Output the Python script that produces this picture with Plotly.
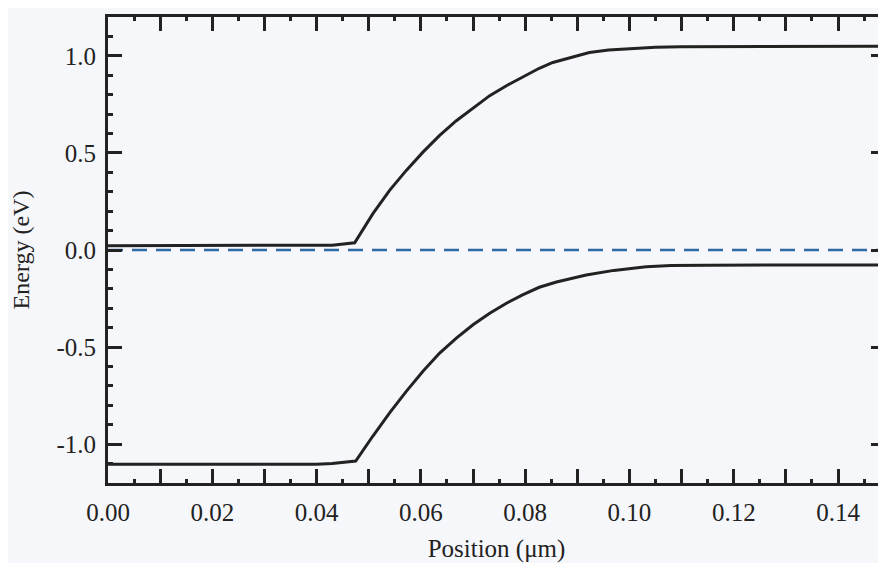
import plotly.graph_objects as go

# Data
cb_x = [0.000, 0.010, 0.020, 0.030, 0.040, 0.0430, 0.0473, 0.0508, 0.0540, 0.0572, 0.0604,
        0.0636, 0.0668, 0.0700, 0.0732, 0.0764, 0.0795, 0.0827, 0.0853, 0.0890, 0.0923,
        0.0960, 0.1006, 0.1050, 0.1100, 0.1200, 0.1300, 0.1490]
cb_y = [0.022, 0.022, 0.022, 0.022, 0.023, 0.025, 0.037, 0.187, 0.307, 0.410, 0.504,
        0.590, 0.666, 0.731, 0.795, 0.846, 0.892, 0.936, 0.966, 0.995, 1.017,
        1.030, 1.039, 1.044, 1.047, 1.048, 1.049, 1.049]

vb_x = [0.000, 0.010, 0.020, 0.030, 0.040, 0.0430, 0.0475, 0.0508, 0.0540, 0.0572, 0.0604,
        0.0636, 0.0668, 0.0700, 0.0732, 0.0764, 0.0795, 0.0827, 0.0860, 0.0917, 0.0970,
        0.1032, 0.1080, 0.1150, 0.1300, 0.1490]
vb_y = [-1.104, -1.104, -1.104, -1.104, -1.103, -1.100, -1.087, -0.958, -0.839, -0.728, -0.625,
        -0.531, -0.454, -0.385, -0.326, -0.274, -0.231, -0.192, -0.165, -0.129, -0.105,
        -0.086, -0.080, -0.078, -0.077, -0.077]

ef_x = [0.000, 0.149]
ef_y = [0.0, 0.0]

x_tickvals = [0.00, 0.01, 0.02, 0.03, 0.04, 0.05, 0.06, 0.07, 0.08, 0.09, 0.10, 0.11, 0.12, 0.13, 0.14]
x_ticktext = ["0.00", "", "0.02", "", "0.04", "", "0.06", "", "0.08", "", "0.10", "", "0.12", "", "0.14"]
y_tickvals = [-1.0, -0.5, 0.0, 0.5, 1.0]
y_ticktext = ["-1.0", "-0.5", "0.0", "0.5", "1.0"]

INK = "#222222"
BG = "#f6f7fb"
FONT = "Liberation Serif, Times New Roman, serif"

fig = go.Figure()
fig.add_trace(go.Scatter(x=cb_x, y=cb_y, mode="lines", line=dict(color=INK, width=3),
                         showlegend=False))
fig.add_trace(go.Scatter(x=vb_x, y=vb_y, mode="lines", line=dict(color=INK, width=3),
                         showlegend=False))
fig.add_trace(go.Scatter(x=ef_x, y=ef_y, mode="lines", line=dict(color="#2f6aa3", width=2.5, dash="15px,9px"),
                         showlegend=False))

fig.update_layout(
    width=886, height=563,
    margin=dict(l=100, r=8, t=6, b=88),
    paper_bgcolor=BG, plot_bgcolor=BG,
    font=dict(family=FONT, color=INK, size=25),
)

fig.update_xaxes(
    range=[0, 0.149],
    showgrid=False, zeroline=False,
    showline=True, linecolor=INK, linewidth=3, mirror="ticks",
    ticks="inside", ticklen=14, tickwidth=2.5, tickcolor=INK,
    tickvals=x_tickvals, ticktext=x_ticktext,
    tickfont=dict(family=FONT, size=25, color=INK),
    ticklabelstandoff=5,
    minor=dict(dtick=0.005, tick0=0, ticks="inside", ticklen=4, tickwidth=2.5, tickcolor=INK, showgrid=False),
    title=dict(text="Position (μm)", font=dict(family=FONT, size=25, color=INK), standoff=15),
)

fig.update_yaxes(
    range=[-1.2, 1.2],
    showgrid=False, zeroline=False,
    showline=True, linecolor=INK, linewidth=3, mirror="ticks",
    ticks="inside", ticklen=14, tickwidth=2.5, tickcolor=INK,
    tickvals=y_tickvals, ticktext=y_ticktext,
    tickfont=dict(family=FONT, size=25, color=INK),
    ticklabelstandoff=4,
    minor=dict(dtick=0.1, tick0=0, ticks="inside", ticklen=5, tickwidth=2.5, tickcolor=INK, showgrid=False),
    title=dict(text="Energy (eV)", font=dict(family=FONT, size=24, color=INK), standoff=25),
)

fig.write_html("out.html")
